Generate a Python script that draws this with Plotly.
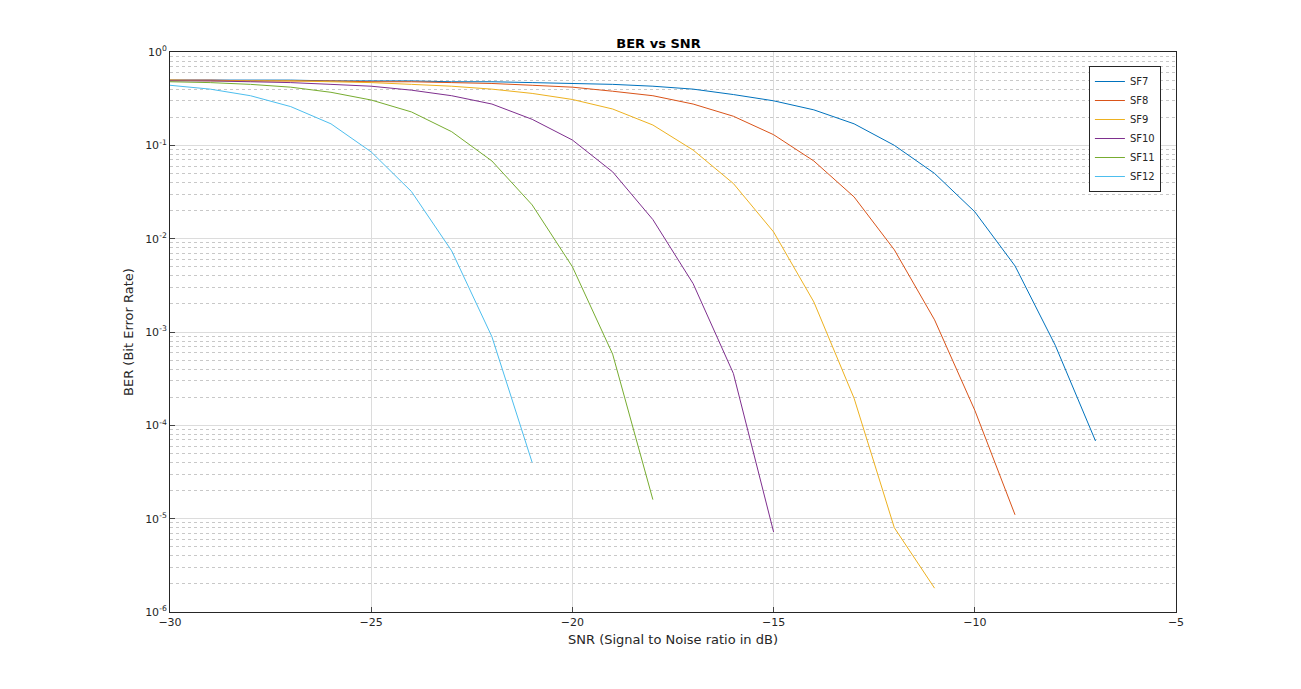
import plotly.graph_objects as go

snr = list(range(-30, -6))
sf7 = [0.5,0.5,0.5,0.5,0.49,0.49,0.49,0.48,0.48,0.47,0.46,0.45,0.43,0.40,0.35,0.30,0.24,0.17,0.10,0.05,0.0194,5.1e-3,7.2e-4,6.8e-5]
sf8 = [0.5,0.5,0.49,0.49,0.49,0.48,0.48,0.47,0.46,0.44,0.42,0.38,0.34,0.277,0.205,0.13,0.068,0.028,7.6e-3,1.35e-3,1.45e-4,1.1e-5]
sf9 = [0.5,0.49,0.49,0.49,0.48,0.47,0.45,0.43,0.40,0.36,0.31,0.245,0.165,0.089,0.039,0.0118,2.1e-3,1.95e-4,8e-6,1.8e-6]
sf10 = [0.49,0.49,0.48,0.47,0.45,0.43,0.39,0.34,0.277,0.19,0.114,0.052,0.016,3.3e-3,3.6e-4,7.2e-6]
sf11 = [0.48,0.47,0.45,0.42,0.37,0.306,0.228,0.14,0.068,0.023,5e-3,5.8e-4,1.6e-5]
sf12 = [0.44,0.40,0.34,0.26,0.17,0.085,0.032,7.4e-3,8.9e-4,4e-5]
series = [("SF7", sf7, "#0072BD"), ("SF8", sf8, "#D95319"), ("SF9", sf9, "#EDB120"),
          ("SF10", sf10, "#7E2F8E"), ("SF11", sf11, "#77AC30"), ("SF12", sf12, "#4DBEEE")]
ytickvals = [1e-6, 1e-5, 1e-4, 1e-3, 1e-2, 1e-1, 1]
yticktext = ["10<sup>-6</sup>", "10<sup>-5</sup>", "10<sup>-4</sup>", "10<sup>-3</sup>",
             "10<sup>-2</sup>", "10<sup>-1</sup>", "10<sup>0</sup>"]

fig = go.Figure()
for name, vals, col in series:
    fig.add_trace(go.Scatter(x=snr[:len(vals)], y=vals, name=name, mode="lines",
                             line=dict(color=col, width=1)))

fig.update_layout(
    width=1301, height=689, paper_bgcolor="white", plot_bgcolor="white",
    margin=dict(l=162, r=133, t=44, b=85),
    font=dict(family="DejaVu Sans", size=11, color="#262626"),
    title=dict(text="<b>BER vs SNR</b>", x=0.5, xanchor="center", y=0.955, font=dict(size=13, color="black")),
    legend=dict(x=0.985, y=0.975, xanchor="right", yanchor="top", bordercolor="#262626", borderwidth=1,
                bgcolor="white", font=dict(size=10), tracegroupgap=0, itemwidth=30),
    showlegend=True,
)
fig.update_xaxes(range=[-30, -5], dtick=5, showgrid=True, gridcolor="#dcdcdc", gridwidth=1,
                 showline=True, linecolor="#262626", mirror=True, ticks="inside", ticklen=5,
                 zeroline=False, title=dict(text="SNR (Signal to Noise ratio in dB)", font=dict(size=13), standoff=6))
fig.update_yaxes(type="log", range=[-6, 0], tickvals=ytickvals, ticktext=yticktext,
                 showgrid=True, gridcolor="#dcdcdc", showline=True, linecolor="#262626", mirror=True,
                 ticks="inside", ticklen=5, zeroline=False,
                 minor=dict(showgrid=True, gridcolor="#c8c8c8", griddash="dot", dtick="D1", ticks=""),
                 title=dict(text="BER (Bit Error Rate)", font=dict(size=13), standoff=8))
fig.write_html("out.html")
